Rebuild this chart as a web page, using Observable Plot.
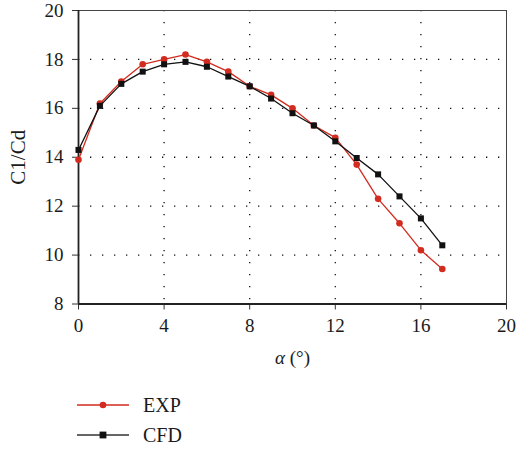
<!DOCTYPE html>
<html>
<head>
<meta charset="utf-8">
<script src="https://cdn.jsdelivr.net/npm/d3@7"></script>
<script src="https://cdn.jsdelivr.net/npm/@observablehq/plot@0.6"></script>
<style>
  html, body { margin: 0; padding: 0; background: #fff; }
  body { width: 516px; font-family: "Liberation Serif", "DejaVu Serif", serif; color: #1a1a1a; }
  #chart svg, #chart svg text, #chart svg g { font-family: "Liberation Serif", serif !important; }
  #legend { margin-left: 77px; margin-top: 12px; font-size: 20px; }
  .item { display: flex; align-items: center; height: 30px; }
  .item svg { margin-right: 13px; }
</style>
</head>
<body>
<div id="chart"></div>
<div id="legend"></div>
<script>
const alpha = [0, 1, 2, 3, 4, 5, 6, 7, 8, 9, 10, 11, 12, 13, 14, 15, 16, 17];
const expValues = [13.9, 16.2, 17.1, 17.8, 18.0, 18.2, 17.9, 17.5, 16.9, 16.55, 16.0, 15.3, 14.8, 13.7, 12.3, 11.3, 10.2, 9.43];
const cfdValues = [14.3, 16.1, 17.0, 17.5, 17.8, 17.9, 17.7, 17.3, 16.9, 16.4, 15.8, 15.3, 14.65, 13.97, 13.3, 12.4, 11.5, 10.4];
const xTicks = [0, 4, 8, 12, 16, 20];
const yTicks = [8, 10, 12, 14, 16, 18, 20];
const seriesNames = ["EXP", "CFD"];
const seriesColors = ["#d22b1f", "#111111"];

const expData = alpha.map((a, i) => ({a, v: expValues[i]}));
const cfdData = alpha.map((a, i) => ({a, v: cfdValues[i]}));
const serif = "Liberation Serif";

const chart = Plot.plot({
  width: 516,
  height: 378,
  marginLeft: 78,
  marginRight: 10,
  marginTop: 10,
  marginBottom: 74.5,
  style: {fontFamily: serif, fontSize: "19px", color: "#1a1a1a", background: "#fff"},
  x: {domain: [0, 20], ticks: xTicks},
  y: {domain: [8, 20], ticks: yTicks},
  marks: [
    Plot.gridX(xTicks.slice(1, -1), {stroke: "#111", strokeOpacity: 1, strokeWidth: 1.3, strokeDasharray: "1.3,10.7"}),
    Plot.gridY(yTicks.slice(1, -1), {stroke: "#111", strokeOpacity: 1, strokeWidth: 1.3, strokeDasharray: "1.3,10.7"}),
    Plot.frame({stroke: "#444", strokeWidth: 1}),
    Plot.axisX({ticks: xTicks, tickSize: 6, tickPadding: 8, stroke: "#333", fill: "#1a1a1a", label: null, fontSize: 19, fontFamily: serif}),
    Plot.axisX({ticks: [], tickSize: 0, label: "α (°)", labelArrow: "none", labelAnchor: "center", labelOffset: 60, fontSize: 19, fontFamily: serif, fill: "#1a1a1a"}),
    Plot.axisY({ticks: yTicks, tickSize: 6, tickPadding: 9, stroke: "#333", fill: "#1a1a1a", label: null, fontSize: 19, fontFamily: serif}),
    Plot.axisY({ticks: [], tickSize: 0, label: "C1/Cd", labelAnchor: "center", labelOffset: 68, labelArrow: "none", fontSize: 21, fontFamily: serif, fill: "#1a1a1a"}),
    Plot.ruleY([8], {stroke: "#222", strokeWidth: 1.8}),
    Plot.ruleX([0], {stroke: "#222", strokeWidth: 1.8}),
    Plot.line(expData, {x: "a", y: "v", stroke: seriesColors[0], strokeWidth: 1.3}),
    Plot.dot(expData, {x: "a", y: "v", fill: seriesColors[0], r: 3.3, symbol: "circle"}),
    Plot.line(cfdData, {x: "a", y: "v", stroke: seriesColors[1], strokeWidth: 1.3}),
    Plot.dot(cfdData, {x: "a", y: "v", fill: seriesColors[1], r: 3.4, symbol: "square"})
  ]
});
document.getElementById("chart").appendChild(chart);

// italic alpha in x label
d3.select(chart).selectAll("text").each(function() {
  if (this.textContent.trim() === "α (°)") {
    this.textContent = "";
    d3.select(this).append("tspan").attr("font-style", "italic").text("α");
    d3.select(this).append("tspan").text(" (°)");
  }
});

const legend = document.getElementById("legend");
seriesNames.forEach((name, i) => {
  const item = document.createElement("div");
  item.className = "item";
  const marker = i === 0
    ? `<circle cx="26" cy="8" r="3.3" fill="${seriesColors[i]}"/>`
    : `<rect x="22.6" y="4.6" width="6.8" height="6.8" fill="${seriesColors[i]}"/>`;
  item.innerHTML = `<svg width="53" height="16"><line x1="0" x2="52" y1="8" y2="8" stroke="${i === 0 ? seriesColors[i] : '#333'}" stroke-width="1.3"/>${marker}</svg><span>${name}</span>`;
  legend.appendChild(item);
});
</script>
</body>
</html>
